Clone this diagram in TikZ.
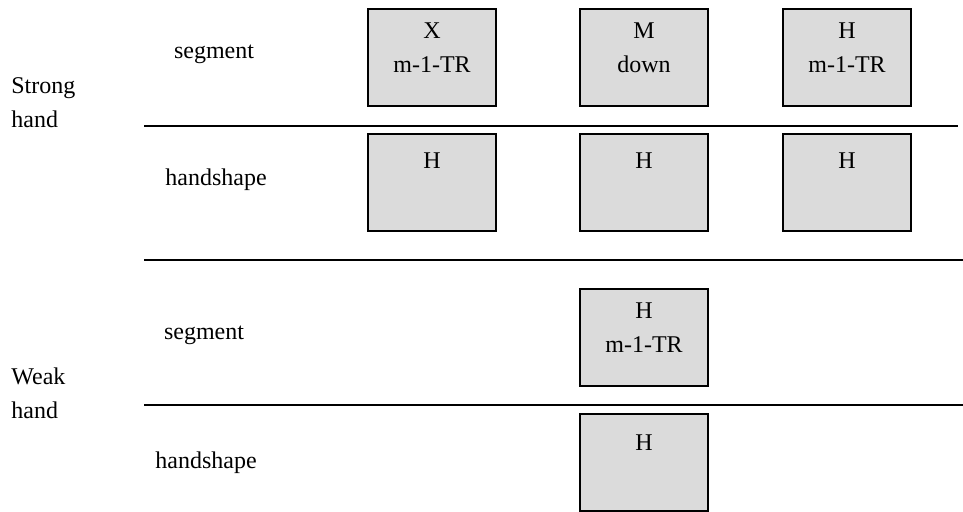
\documentclass[tikz,border=0pt]{standalone}
\usepackage{fontspec}
\setmainfont{Liberation Serif}
\usetikzlibrary{calc}

\begin{document}
\begin{tikzpicture}[x=0.5pt,y=-0.5pt,font=\fontsize{12}{17}\selectfont]
    \tikzstyle{slot}=[draw=black,line width=1pt,fill=black!14,minimum width=64pt,minimum height=48.5pt,inner sep=0pt]
    \tikzstyle{tag}=[align=center,inner sep=0pt,anchor=north]
    \tikzstyle{tier}=[inner sep=0pt]
    \tikzstyle{hand}=[align=left,inner sep=0pt,anchor=north west]
    \tikzstyle{rule}=[line width=1pt]
    \useasboundingbox (0,0) rectangle (963,512);
    % hands
    \node[hand] (strong) at (11,77)  {Strong\\hand};
    \node[hand] (weak)   at (11,367) {Weak\\hand};
    % tier names
    \node[tier] (sseg)  at (214,54)  {segment};
    \node[tier] (shs)   at (216,180) {handshape};
    \node[tier] (wseg)  at (204,335) {segment};
    \node[tier] (whs)   at (206,463) {handshape};
    % tier lines
    \coordinate (l1w) at (144,126);
    \coordinate (l1e) at (958,126);
    \coordinate (l2w) at (144,260);
    \coordinate (l2e) at (963,260);
    \coordinate (l3w) at (144,405);
    \coordinate (l3e) at (963,405);
    \draw[rule] (l1w) -- (l1e);
    \draw[rule] (l2w) -- (l2e);
    \draw[rule] (l3w) -- (l3e);
    % strong hand segments
    \node[slot] (s1) at (432,57.5) {};
    \node[slot] (s2) at (644,57.5) {};
    \node[slot] (s3) at (847,57.5) {};
    \node[tag] (s1t) at ($(s1.north)+(0,14)$) {X\\m-1-TR};
    \node[tag] (s2t) at ($(s2.north)+(0,14)$) {M\\down};
    \node[tag] (s3t) at ($(s3.north)+(0,14)$) {H\\m-1-TR};
    % strong hand handshapes
    \node[slot] (h1) at (432,182.5) {};
    \node[slot] (h2) at (644,182.5) {};
    \node[slot] (h3) at (847,182.5) {};
    \node[tag] (h1t) at ($(h1.north)+(0,19)$) {H};
    \node[tag] (h2t) at ($(h2.north)+(0,19)$) {H};
    \node[tag] (h3t) at ($(h3.north)+(0,19)$) {H};
    % weak hand
    \node[slot] (w1) at (644,338) {};
    \node[slot] (w2) at (644,462.5) {};
    \node[tag] (w1t) at ($(w1.north)+(0,14)$) {H\\m-1-TR};
    \node[tag] (w2t) at ($(w2.north)+(0,21)$) {H};
\end{tikzpicture}
\end{document}
